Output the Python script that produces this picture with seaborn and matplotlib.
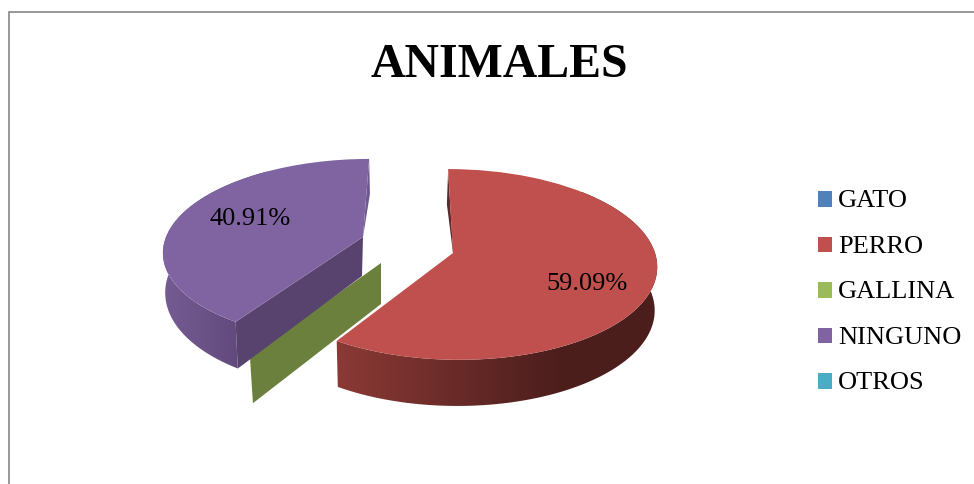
import numpy as np
import matplotlib
matplotlib.use("Agg")
import matplotlib.pyplot as plt
from matplotlib.patches import Polygon
from matplotlib.transforms import Transform
import seaborn as sns

categories = ["GATO", "PERRO", "GALLINA", "NINGUNO", "OTROS"]
values = [0.0, 59.09, 0.0, 40.91, 0.0]
colors = ["#4F81BD", "#C0504D", "#9BBB59", "#8064A2", "#4BACC6"]
title = "ANIMALES"

sns.set_theme(style="white")
plt.rcParams["font.family"] = ["Liberation Serif", "DejaVu Serif"]

# layout: apex x, apex y, x radius, y radius, shear, perspective (figure pixels)
TOP = {"PERRO": (453, 254, 202, 94, -5.5, 0.12), "NINGUNO": (363, 238, 197, 89, 7.0, 0.14)}
BOT = {"PERRO": (455, 299, 198, 95, -2.0, 0.12), "NINGUNO": (362, 277, 194, 97, 5.6, 0.14)}
GREEN_TOP = (381, 264, 218, 100, 0.0, 0.12)
GREEN_BOT = (381, 305, 213, 106, 0.0, 0.12)


def project(u, v, p):
    cx, cy, rx, ry, s, k = p
    w = 1 + k * v
    return cx + (rx * u + s * v) / w, cy - ry * v / w


def at_angle(a, p):
    r = np.radians(a)
    return project(np.sin(r), np.cos(r), p)


class Perspective(Transform):
    input_dims = 2
    output_dims = 2
    is_affine = False

    def __init__(self, p):
        super().__init__()
        self.p = p

    def transform_non_affine(self, xy):
        xy = np.asarray(xy, dtype=float)
        x, y = project(xy[:, 0], xy[:, 1], self.p)
        return np.column_stack([x, y])


def side_wall(a0, a1, top, bot, c0, c1, x0, x1):
    angles = np.linspace(a0, a1, 160)
    tx, ty = at_angle(angles, top)
    bx, by = at_angle(angles, bot)
    pts = np.column_stack([np.r_[tx, bx[::-1]], np.r_[ty, by[::-1]]])
    clip = Polygon(pts, closed=True, transform=ax.transData)
    lo, hi = pts[:, 0].min() - 1, pts[:, 0].max() + 1
    xs = np.linspace(lo, hi, 256)
    t = np.clip((xs - x0) / (x1 - x0), 0, 1)[:, None]
    grad = (np.array(c0) + (np.array(c1) - np.array(c0)) * t) / 255
    im = ax.imshow(grad[None, :, :], extent=(lo, hi, pts[:, 1].max() + 1, pts[:, 1].min() - 1),
                   aspect="auto", zorder=2, interpolation="bilinear")
    im.set_clip_path(clip)


fig = plt.figure(figsize=(9.74, 4.85), dpi=100)
ax = fig.add_axes([0, 0, 1, 1])

wedges, _ = ax.pie(values, colors=sns.color_palette(colors), startangle=90,
                   counterclock=False, normalize=True, wedgeprops={"linewidth": 0})

for w, name in zip(wedges, categories):
    if name in TOP:
        w.set_transform(Perspective(TOP[name]) + ax.transData)
        w.set_zorder(4)

split = 360 * values[1] / sum(values)

# PERRO: outer wall and thin inner wall
side_wall(45, split, TOP["PERRO"], BOT["PERRO"], (75, 30, 28), (138, 57, 53), 560, 340)
s0 = at_angle(0, TOP["PERRO"])
ax.fill([s0[0], s0[0] - 1.2, 453, 453], [s0[1] + 2, s0[1] + 35, 254, 250], color="#5a2a2c", lw=0, zorder=3)

# NINGUNO: outer wall, inner wall and thin wall at the top
side_wall(split, 325, TOP["NINGUNO"], BOT["NINGUNO"], (98, 74, 125), (116, 91, 146), 238, 165)
e0, e1 = at_angle(split, TOP["NINGUNO"]), at_angle(split, BOT["NINGUNO"])
ax.fill([363, e0[0], e1[0], 362], [238, e0[1], e1[1], 277], color="#58436f", lw=0, zorder=3)
s1 = at_angle(360, TOP["NINGUNO"])
ax.fill([s1[0], s1[0] + 0.8, 363], [s1[1], s1[1] + 35, 238], color="#6f5890", lw=0, zorder=3)

# GALLINA: empty slice, only its wall shows
g0, g1 = at_angle(split, GREEN_TOP), at_angle(split, GREEN_BOT)
ax.fill([381, g0[0], g1[0], 381], [264, g0[1], g1[1], 305], color="#6b803c", lw=0, zorder=2)

# chart frame, cut by the image on the right and at the bottom
ax.plot([8.5, 8.5, 974], [485, 12.5, 12.5], color="#868686", lw=1.2, zorder=1,
        solid_joinstyle="miter")

ax.set_aspect("auto")
ax.set_xlim(0, 974)
ax.set_ylim(485, 0)
ax.axis("off")

ax.text(499, 65, title, fontsize=34.4, fontweight="bold", ha="center", va="center",
        color="black", zorder=6)
ax.text(250, 219, f"{values[3]:.2f}%", fontsize=19, ha="center", va="center", color="black", zorder=6)
ax.text(587, 284, f"{values[1]:.2f}%", fontsize=19, ha="center", va="center", color="black", zorder=6)

leg = ax.legend(wedges, categories, loc="center left", bbox_to_anchor=(818, 292),
                bbox_transform=ax.transData, frameon=False, fontsize=19,
                handlelength=0.53, handleheight=0.53, handletextpad=0.23,
                labelspacing=0.887, borderpad=0, borderaxespad=0)
for t in leg.get_texts():
    t.set_color("black")
for p in leg.get_patches():
    p.set_y(p.get_y() - 1.6)

fig.savefig("out.png", dpi=100)
